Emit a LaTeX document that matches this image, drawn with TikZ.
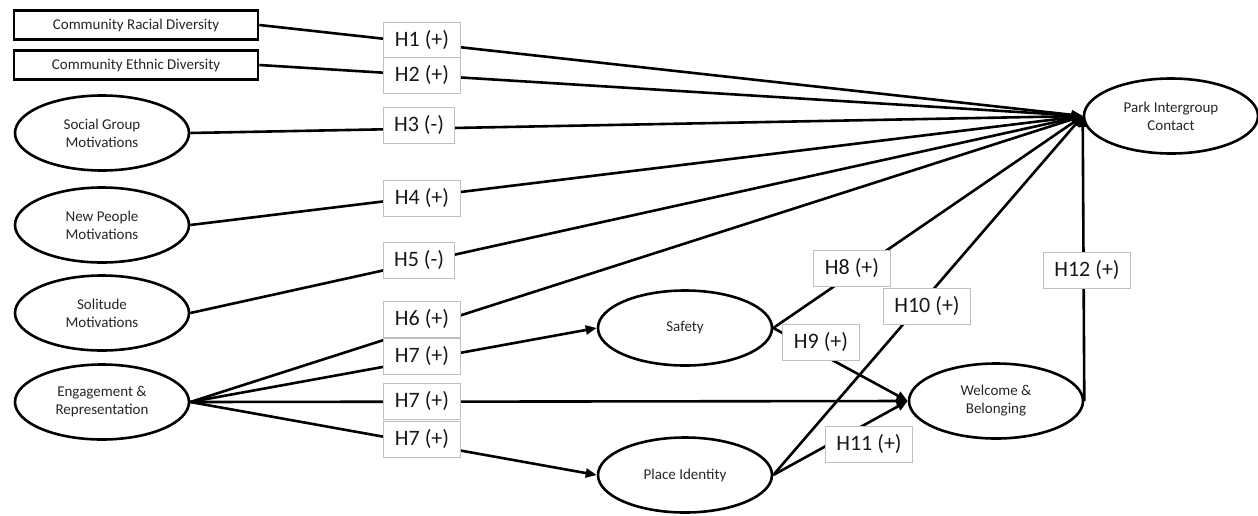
\documentclass[tikz,border=0pt]{standalone}
\usepackage{fontspec}
\setmainfont{Carlito}
\usetikzlibrary{shapes.geometric,arrows.meta}
\begin{document}
\begin{tikzpicture}[x=1pt,y=-1pt,
  every node/.style={font=\fontsize{15}{18}\selectfont, text=black!85, align=center},
  factor/.style={draw, line width=2.6pt, rectangle, minimum width=244pt, minimum height=29pt, inner sep=0pt},
  construct/.style={draw, line width=2.6pt, ellipse, minimum width=174pt, minimum height=75pt, inner sep=0pt},
  link/.style={line width=2.6pt},
  effect/.style={link, -{Triangle[length=11pt,width=9pt]}},
  hyp/.style={draw=black!25, line width=1pt, fill=white, font=\fontsize{22}{26}\selectfont,
    text=black!90, inner xsep=11pt, inner ysep=0pt, minimum height=36pt}
]
\useasboundingbox (0,0) rectangle (1258,515);

% exogenous measures and motivations
\node[factor] (racial) at (136,25) {Community Racial Diversity};
\node[factor] (ethnic) at (136,65) {Community Ethnic Diversity};
\node[construct] (social) at (102,133) {Social Group\\Motivations};
\node[construct] (newppl) at (102,225) {New People\\Motivations};
\node[construct] (solitude) at (102,313) {Solitude\\Motivations};
\node[construct] (engage) at (102,402) {Engagement \&\\Representation};

% mediators and outcome
\node[construct] (safety) at (685,328) {Safety};
\node[construct] (place) at (685,475) {Place Identity};
\node[construct] (welcome) at (996,401) {Welcome \&\\Belonging};
\node[construct] (park) at (1171,116) {Park Intergroup\\Contact};

% hypothesised paths
\draw[effect] (racial.east) -- (park.west);
\draw[effect] (ethnic.east) -- (park.west);
\draw[effect] (social.east) -- (park.west);
\draw[effect] (newppl.east) -- (park.west);
\draw[effect] (solitude.east) -- (park.west);
\draw[effect] (engage.east) -- (park.west);
\draw[effect] (engage.east) -- (safety.west);
\draw[effect] (engage.east) -- (welcome.west);
\draw[effect] (engage.east) -- (place.west);
\draw[effect] (safety.east) -- (park.west);
\draw[effect] (safety.east) -- (welcome.west);
\draw[effect] (place.east) -- (park.west);
\draw[effect] (place.east) -- (welcome.west);
\draw[effect] (welcome.east) -- (park.west);

% hypothesis labels
\node[hyp] (h1) at (422,40) {H1 (+)};
\node[hyp] (h2) at (422,75) {H2 (+)};
\node[hyp] (h3) at (419,125) {H3 (-)};
\node[hyp] (h4) at (422,198) {H4 (+)};
\node[hyp] (h5) at (419,260) {H5 (-)};
\node[hyp] (h6) at (422,319) {H6 (+)};
\node[hyp] (h7a) at (422,356) {H7 (+)};
\node[hyp] (h7b) at (422,401) {H7 (+)};
\node[hyp] (h7c) at (422,439) {H7 (+)};
\node[hyp] (h8) at (852,268) {H8 (+)};
\node[hyp] (h9) at (821,342) {H9 (+)};
\node[hyp] (h10) at (927,306) {H10 (+)};
\node[hyp] (h11) at (869,444) {H11 (+)};
\node[hyp] (h12) at (1087,270) {H12 (+)};
\end{tikzpicture}
\end{document}
